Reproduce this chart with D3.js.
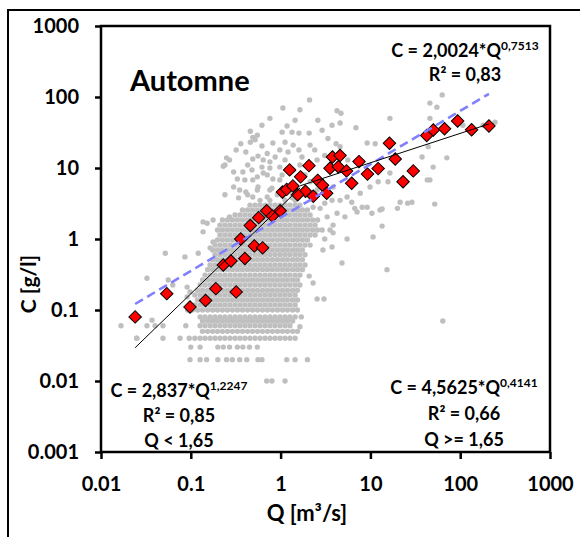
<!DOCTYPE html>
<html>
<head>
<meta charset="utf-8">
<script src="https://cdn.jsdelivr.net/npm/d3@7"></script>
<style>
  body { margin: 0; background: #fff; }
  svg { display: block; font-family: Lato, "Open Sans", sans-serif; font-weight: bold; }
</style>
</head>
<body>
<div id="chart"></div>
<script>
const width = 580;
const height = 537;

// axis ticks
const xTicks = [0.01, 0.1, 1, 10, 100, 1000];
const xTickLabels = ['0.01', '0.1', '1', '10', '100', '1000'];
const yTicks = [0.001, 0.01, 0.1, 1, 10, 100, 1000];
const yTickLabels = ['0.001', '0.01', '0.1', '1', '10', '100', '1000'];

// red diamonds (Q m3/s, C g/l)
const redQ = [0.024, 0.054, 0.098, 0.146, 0.19, 0.32, 0.23, 0.28, 0.40, 0.36, 0.46, 0.51, 0.63, 0.57, 0.70, 0.81,
  0.99, 1.05, 1.17, 1.26, 1.67, 2.07, 1.37, 1.89, 2.31, 2.59, 2.93, 3.26, 3.55, 3.78, 4.59, 4.39, 5.42, 6.19,
  7.47, 9.28, 12.2, 16.3, 18.9, 23.1, 30.0, 42.4, 50.2, 66.9, 93.6, 134, 209, 1.55];
const redC = [0.08, 0.17, 0.11, 0.136, 0.2, 0.18, 0.43, 0.49, 0.53, 1.0, 1.55, 0.8, 0.75, 2.0, 2.5, 2.1,
  2.5, 4.6, 5.0, 9.4, 7.5, 10.8, 5.6, 4.7, 4.0, 6.7, 5.7, 4.4, 9.9, 14.3, 15, 10.4, 9.1, 6.1,
  12.3, 8.2, 9.8, 22.3, 13.4, 6.4, 9.1, 28.7, 34.3, 35.7, 45.9, 34.6, 39, 4.2];

// scattered grey points [Q, C]
const grayScatter = [
  [1.06,70],[2.1,91],[1.64,66],[4.25,64],[4.7,59],[1.18,39],[2.9,34],[0.46,33],[1.04,32],[1.34,32],[1.6,31],
  [2.08,31],[3.37,26],[6.9,37],[4.6,43],[3.74,40],[0.55,29],[0.49,27],[0.36,22],[0.52,25],[0.82,22.5],[2.13,21],
  [4.15,22],[0.98,18],[1.21,16.8],[1.6,18],[0.71,16],[0.49,13.4],[0.64,13],[0.76,12.2],[0.87,14.3],[0.56,14.7],
  [0.25,13.9],[0.23,10.6],[0.27,13],[0.38,8.8],[0.48,9.4],[0.62,10.3],[0.76,10],[0.98,10.3],[2.55,13],[3.1,15],
  [2.4,18],[0.4,6.8],[0.55,7.5],[0.71,8],[0.82,7],[0.49,6.8],[0.64,8.5],[0.98,6.8],[0.3,5.4],[0.49,3.9],[0.71,3.9],
  [63,107],[46,82],[55,72],[16.5,50],[46,50],[9.2,22.5],[11.3,22],[4.6,20],[5.6,13],[1.73,14.3],[37.6,14.3],
  [44,20],[71,13.9],[16.5,8.5],[15.7,6.4],[12.2,6.4],[43,6.8],[9.9,5.4],[7.7,4.4],[5.5,3.9],[4.6,3.5],[6.2,3.3],
  [6.7,2.7],[9.2,2.8],[10.4,2.3],[12.8,2.56],[21.4,3.3],[26,3.2],[29,3.3],[20,2.7],[52,3.1],[46,6.8],[50,10.3],
  [68,34],[244,44],[180,40],[107,40],[1.53,5.4],[3.84,5.4],[3.74,3.5],[3.1,3.2],[2.3,2.8],[2.75,2.7],[3.3,2.05],
  [3.84,1.57],[4.25,2.3],[5.2,2.05],[7.1,2.4],[8.1,2.8],[13.5,2.65],[13.5,1.52],[10.7,1.07],[5.5,1.0],[3.1,1.0],
  [2.9,1.34],[3.55,1.34],[3.84,1.22],[3.74,0.77],[2.96,0.7],[4.83,0.46],[15.3,0.37],[2.08,0.3],[2.3,0.24],
  [2.55,0.143],[3.04,0.143],[1.7,0.08],[1.64,0.058],[64,0.07],[0.137,1.74],[0.177,1.85],[0.27,2.05],[0.152,1.67],
  [0.137,1.26],[0.177,0.91],[0.052,0.63],[0.086,0.56],[0.121,0.63],[0.164,0.75],[0.0325,0.28],[0.056,0.265],
  [0.063,0.225],[0.091,0.21],[0.098,0.18],[0.037,0.072],[0.0167,0.06],[0.025,0.04],[0.0325,0.06],[0.04,0.06],
  [0.049,0.06],[0.091,0.153],[0.24,11],[0.3,8.8],[0.56,5.4],[1.04,8],[0.46,23],
  [0.59,3.5],[0.76,3.5],[1.12,3.5],[1.45,3.5],[0.43,4.2],[0.92,4.2],[1.36,4.2],[0.35,4.9],[0.76,4.9],[1.27,4.9],
  [0.32,17.9],[0.41,16.8],[0.62,20.4],[1.12,23],[1.38,21],[0.43,11],[0.33,7],[1.12,13],[1.38,9.4],[1.64,11],
  [0.55,4.9],[0.41,4.6],[0.8,5.2],[1.06,4.0],[0.34,3.8],[1.34,3.8],[0.24,4.2],[1.87,8],[2.13,6.4],[2.55,4.9],
  [0.62,40],[0.76,50],[1.45,47],[2.6,47]
];

// dense grey cloud, one C level per row with its Q values
const denseC = [3.0, 2.56, 2.18, 1.85, 1.57, 1.34, 1.14, 0.97, 0.82, 0.70, 0.60, 0.51, 0.43, 0.37, 0.31, 0.265,
  0.225, 0.19, 0.163, 0.138, 0.118, 0.1, 0.08, 0.07, 0.06, 0.05, 0.04, 0.03, 0.02, 0.01];
const denseQ = [
  [0.456,0.519,0.59,0.671,0.762,0.866,0.985,1.12,1.27,1.45,1.64],
  [0.376,0.428,0.486,0.553,0.629,0.715,0.812,0.924,1.05,1.19,1.36,1.54,1.75,1.99],
  [0.311,0.353,0.401,0.456,0.519,0.59,0.671,0.762,0.866,0.985,1.12,1.27,1.45,1.64,1.87,2.13],
  [0.225,0.256,0.291,0.331,0.376,0.428,0.486,0.553,0.629,0.715,0.812,0.924,1.05,1.19,1.36,1.54,1.75,1.99,2.27,2.58],
  [0.211,0.24,0.273,0.311,0.353,0.401,0.456,0.519,0.59,0.671,0.762,0.866,0.985,1.12,1.27,1.45,1.64,1.87,2.13,2.42],
  [0.198,0.225,0.256,0.291,0.331,0.376,0.428,0.486,0.553,0.629,0.715,0.812,0.924,1.05,1.19,1.36,1.54,1.75,1.99,2.27,2.58],
  [0.211,0.24,0.273,0.311,0.353,0.401,0.456,0.519,0.59,0.671,0.762,0.866,0.985,1.12,1.27,1.45,1.64,1.87,2.13,2.42],
  [0.198,0.225,0.256,0.291,0.331,0.376,0.428,0.486,0.553,0.629,0.715,0.812,0.924,1.05,1.19,1.36,1.54,1.75,1.99],
  [0.186,0.211,0.24,0.273,0.311,0.353,0.401,0.456,0.519,0.59,0.671,0.762,0.866,0.985,1.12,1.27,1.45,1.64,1.87,2.13],
  [0.175,0.198,0.225,0.256,0.291,0.331,0.376,0.428,0.486,0.553,0.629,0.715,0.812,0.924,1.05,1.19,1.36,1.54,1.75],
  [0.186,0.211,0.24,0.273,0.311,0.353,0.401,0.456,0.519,0.59,0.671,0.762,0.866,0.985,1.12,1.27,1.45,1.64,1.87],
  [0.175,0.198,0.225,0.256,0.291,0.331,0.376,0.428,0.486,0.553,0.629,0.715,0.812,0.924,1.05,1.19,1.36,1.54,1.75],
  [0.164,0.186,0.211,0.24,0.273,0.311,0.353,0.401,0.456,0.519,0.59,0.671,0.762,0.866,0.985,1.12,1.27,1.45,1.64,1.87],
  [0.154,0.175,0.198,0.225,0.256,0.291,0.331,0.376,0.428,0.486,0.553,0.629,0.715,0.812,0.924,1.05,1.19,1.36,1.54,1.75],
  [0.144,0.164,0.186,0.211,0.24,0.273,0.311,0.353,0.401,0.456,0.519,0.59,0.671,0.762,0.866,0.985,1.12,1.27,1.45,1.64],
  [0.135,0.154,0.175,0.198,0.225,0.256,0.291,0.331,0.376,0.428,0.486,0.553,0.629,0.715,0.812,0.924,1.05,1.19,1.36,1.54],
  [0.127,0.144,0.164,0.186,0.211,0.24,0.273,0.311,0.353,0.401,0.456,0.519,0.59,0.671,0.762,0.866,0.985,1.12,1.27,1.45,1.64],
  [0.119,0.135,0.154,0.175,0.198,0.225,0.256,0.291,0.331,0.376,0.428,0.486,0.553,0.629,0.715,0.812,0.924,1.05,1.19,1.36,1.54],
  [0.111,0.127,0.144,0.164,0.186,0.211,0.24,0.273,0.311,0.353,0.401,0.456,0.519,0.59,0.671,0.762,0.866,0.985,1.12,1.27,1.45],
  [0.119,0.135,0.154,0.175,0.198,0.225,0.256,0.291,0.331,0.376,0.428,0.486,0.553,0.629,0.715,0.812,0.924,1.05,1.19,1.36,1.54],
  [0.111,0.127,0.144,0.164,0.186,0.211,0.24,0.273,0.311,0.353,0.401,0.456,0.519,0.59,0.671,0.762,0.866,0.985,1.12,1.27,1.45],
  [0.092,0.104,0.119,0.135,0.154,0.175,0.198,0.225,0.256,0.291,0.331,0.376,0.428,0.486,0.553,0.629,0.715,0.812,0.924,1.05,1.19,1.36,1.54],
  [0.127,0.144,0.164,0.186,0.211,0.24,0.273,0.311,0.353,0.401,0.456,0.519,0.59,0.671,0.762,0.866,0.985,1.12,1.27,1.45],
  [0.135,0.154,0.175,0.198,0.225,0.256,0.291,0.331,0.376,0.428,0.486,0.553,0.629,0.715,0.812,0.924,1.05,1.19,1.36],
  [0.088,0.127,0.144,0.164,0.186,0.211,0.24,0.273,0.311,0.353,0.401,0.456,0.519,0.59,0.671,0.762,0.866,0.985,1.12,1.27],
  [0.135,0.154,0.175,0.198,0.225,0.256,0.291,0.331,0.376,0.428,0.486,0.553,0.629,0.715,0.812,0.924,1.05,1.19,1.36,1.54],
  [0.025,0.049,0.076,0.096,0.111,0.127,0.144,0.164,0.186,0.211,0.24,0.273,0.311,0.353,0.401,0.456,0.519,0.59,0.671,0.762,0.866,0.985,1.12,1.27,1.45],
  [0.1,0.127,0.2,0.23,0.27,0.33,0.38,0.45,0.55],
  [0.098,0.127,0.15,0.2,0.25,0.29,0.35,0.42,0.56,0.62,1.17,1.45,1.99],
  [0.7,0.8,1.12]
];

// power fits C = a * Q^b : lower branch, upper branch, whole set
const fitA = [2.837, 4.5625, 2.0024];
const fitB = [1.2247, 0.4141, 0.7513];
const qBreak = 1.65;

const svg = d3.select('#chart').append('svg')
  .attr('width', width)
  .attr('height', height);

const x = d3.scaleLog().domain([0.01, 1000]).range([101, 550]);
const y = d3.scaleLog().domain([0.001, 1000]).range([452, 26]);

// outer frame (top and left edges)
svg.append('path')
  .attr('d', `M8,${height} L8,10 L${width},10`)
  .attr('fill', 'none')
  .attr('stroke', '#000')
  .attr('stroke-width', 2);

// grey points
const grayPts = grayScatter.slice();
denseC.forEach((c, i) => denseQ[i].forEach(q => grayPts.push([q, c])));

svg.append('g').selectAll('circle')
  .data(grayPts)
  .join('circle')
  .attr('cx', d => x(d[0]))
  .attr('cy', d => y(d[1]))
  .attr('r', 2.7)
  .attr('fill', '#bfbfbf');

// red diamonds
const reds = redQ.map((q, i) => [q, redC[i]]);
svg.append('g').selectAll('path')
  .data(reds)
  .join('path')
  .attr('d', d3.symbol().type(d3.symbolSquare).size(78))
  .attr('transform', d => `translate(${x(d[0])},${y(d[1])}) rotate(45)`)
  .attr('fill', '#ff0000')
  .attr('stroke', '#000')
  .attr('stroke-width', 1);

// fit lines
const qMin = d3.min(redQ);
const qMax = d3.max(redQ);
const line = d3.line().x(d => x(d[0])).y(d => y(d[1]));
const fitPts = (k, q0, q1) => [q0, q1].map(q => [q, fitA[k] * Math.pow(q, fitB[k])]);

svg.append('path')
  .attr('d', line(fitPts(2, qMin, qMax)))
  .attr('fill', 'none')
  .attr('stroke', '#7f7fff')
  .attr('stroke-width', 2.6)
  .attr('stroke-dasharray', '9,5');

svg.append('path')
  .attr('d', line(fitPts(0, qMin, qBreak)))
  .attr('fill', 'none')
  .attr('stroke', '#000')
  .attr('stroke-width', 1);

svg.append('path')
  .attr('d', line(fitPts(1, qBreak, qMax)))
  .attr('fill', 'none')
  .attr('stroke', '#000')
  .attr('stroke-width', 1);

// axes
const xAxis = svg.append('g')
  .attr('transform', 'translate(0,452)')
  .call(d3.axisBottom(x).tickValues(xTicks).tickFormat((d, i) => xTickLabels[i])
    .tickSize(7).tickSizeOuter(0).tickPadding(18));
const yAxis = svg.append('g')
  .attr('transform', 'translate(101,0)')
  .call(d3.axisLeft(y).tickValues(yTicks).tickFormat((d, i) => yTickLabels[i])
    .tickSize(6).tickSizeOuter(0).tickPadding(16));

[xAxis, yAxis].forEach(g => {
  g.select('.domain').remove();
  g.selectAll('line').attr('stroke', '#000').attr('stroke-width', 2.5);
  g.selectAll('text')
    .attr('fill', '#000')
    .style('font-family', 'Lato, sans-serif')
    .style('font-weight', 'bold')
    .style('font-size', '20px');
});

// plot frame
svg.append('rect')
  .attr('x', 101).attr('y', 26)
  .attr('width', 449).attr('height', 426)
  .attr('fill', 'none')
  .attr('stroke', '#000')
  .attr('stroke-width', 2.5);

// texts
svg.append('text')
  .attr('x', 130).attr('y', 91)
  .style('font-size', '29px')
  .text('Automne');

function equation(cx, cy, base, sup) {
  const t = svg.append('text')
    .attr('x', cx).attr('y', cy)
    .attr('text-anchor', 'middle')
    .style('font-size', '18px');
  t.append('tspan').text(base);
  t.append('tspan').attr('dy', -7).style('font-size', '12px').text(sup);
}
function plain(cx, cy, s) {
  svg.append('text')
    .attr('x', cx).attr('y', cy)
    .attr('text-anchor', 'middle')
    .style('font-size', '18px')
    .text(s);
}

equation(465, 57, 'C = 2,0024*Q', '0,7513');
plain(465, 81, 'R\u00b2 = 0,83');

equation(179, 397, 'C = 2,837*Q', '1,2247');
plain(179, 422, 'R\u00b2 = 0,85');
plain(179, 447, 'Q < 1,65');

equation(464, 394, 'C = 4,5625*Q', '0,4141');
plain(464, 420, 'R\u00b2 = 0,66');
plain(464, 446, 'Q >= 1,65');

// axis titles
svg.append('text')
  .attr('x', 307).attr('y', 521)
  .attr('text-anchor', 'middle')
  .style('font-size', '22px')
  .text('Q [m\u00b3/s]');

svg.append('text')
  .attr('transform', 'translate(36,284) rotate(-90)')
  .attr('text-anchor', 'middle')
  .style('font-size', '21px')
  .text('C [g/l]');
</script>
</body>
</html>
